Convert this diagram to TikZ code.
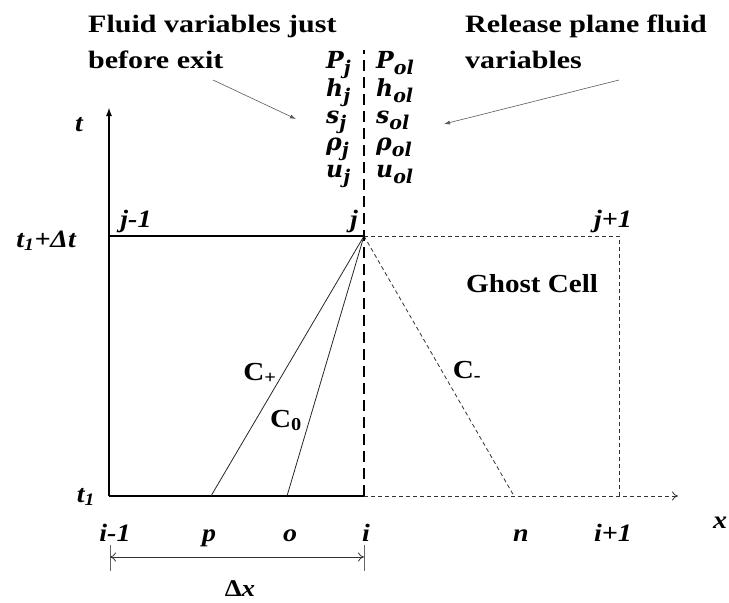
\documentclass[tikz,border=0pt]{standalone}
\usepackage{fontspec}
\setmainfont{Liberation Serif}
\newfontfamily\hdrfont{Liberation Serif}[FakeStretch=1.2]
\newfontfamily\lblfont{Liberation Serif}[FakeStretch=1.12]
\newfontfamily\varfont{DejaVu Serif}
\usetikzlibrary{arrows.meta}
\newcommand{\vsub}[1]{\raisebox{-0.28em}{\fontsize{19}{19}\selectfont #1}}
\tikzset{
  lbl/.style={font=\fontsize{25}{28}\selectfont\lblfont\bfseries\itshape, inner sep=0pt, anchor=base},
  hdr/.style={font=\fontsize{25}{36}\selectfont\hdrfont\bfseries, inner sep=0pt, align=left, anchor=base west},
  var/.style={font=\fontsize{23.5}{25}\selectfont\varfont\bfseries\itshape, inner sep=0pt, anchor=base west},
  cl/.style={font=\fontsize{26}{28}\selectfont\lblfont\bfseries, inner sep=0pt, anchor=base},
  thick edge/.style={line width=2.4pt, black},
  char/.style={line width=0.8pt, black!85},
  ghost/.style={line width=0.8pt, black!80, dash pattern=on 4pt off 3pt},
  note/.style={line width=0.6pt, black!65, -{Latex[length=6pt,width=4pt]}},
}
\begin{document}
\begin{tikzpicture}[x=1pt,y=-1pt]
\useasboundingbox (0,0) rectangle (729,603);
% key points
\coordinate (O) at (109,496);
\coordinate (I) at (364,496);
\coordinate (J) at (364,236);
\coordinate (TL) at (109,236);
\coordinate (TR) at (619,236);
\coordinate (BR) at (619,496);
\coordinate (P) at (211,496);
\coordinate (Oo) at (287,496);
\coordinate (N) at (514,496);
\coordinate (Ttop) at (109,107);
\coordinate (Xend) at (678,496);
\coordinate (Vtop) at (364,50);
% ghost cell
\draw[ghost] (J) -- (TR) -- (BR);
\draw[ghost, -{To[length=6pt,width=9pt]}] (I) -- (Xend);
\draw[ghost] (J) -- (N);
% main cell
\draw[line width=1.6pt] (TL) -- (J);
\draw[line width=2pt] (O) -- (I);
\draw[thick edge, -{Latex[length=9pt,width=6pt]}] (O) -- (Ttop);
% characteristics
\draw[char] (J) -- (P);
\draw[char] (J) -- (Oo);
% exit plane
\draw[line width=1.4pt, dash pattern=on 11pt off 6pt] (I) -- (Vtop);
% labels
\node[lbl] (tl) at (79,131) {t};
\node[lbl, anchor=base east] (tdt) at (76,247) {t\textsubscript{1}+Δt};
\node[lbl] (t1) at (86,502) {t\textsubscript{1}};
\node[lbl] (jm) at (136,227) {j-1};
\node[lbl] (jj) at (354,227) {j};
\node[lbl] (jp) at (613,227) {j+1};
\node[cl, anchor=base west] (gc) at (466,292) {Ghost Cell};
\node[cl] (cp) at (260,380) {C\textsubscript{+}};
\node[cl] (c0) at (286,427) {C\textsubscript{0}};
\node[cl] (cm) at (467,378) {C\textsubscript{-}};
\node[lbl] (bim) at (115,541) {i-1};
\node[lbl] (bp) at (209,541) {p};
\node[lbl] (bo) at (290,541) {o};
\node[lbl] (bi) at (366,541) {i};
\node[lbl] (bn) at (521,541) {n};
\node[lbl] (bip) at (613,541) {i+1};
\node[lbl] (xl) at (720,528) {x};
% delta x
\coordinate (dxa) at (110,557);
\coordinate (dxb) at (364,557);
\draw[line width=0.5pt, black!60] (110,545) -- (110,571);
\draw[line width=0.5pt, black!60] (364,545) -- (364,571);
\draw[line width=0.8pt, black!80, {To[length=6pt,width=9pt]}-{To[length=6pt,width=9pt]}] (dxa) -- (dxb);
\node[font=\fontsize{24}{26}\selectfont\lblfont\bfseries, inner sep=0pt, anchor=base] (dxl) at (240,596) {Δ\textit{x}};
% headers
\node[hdr] (h1) at (88,68) {Fluid variables just\\before exit};
\node[hdr] (h2) at (465,68) {Release plane fluid\\variables};
% variables
\foreach \y/\a/\b in {68/P/P, 96/h/h, 123/s/s, 150/ρ/ρ, 177/u/u}{
  \node[var] at (326,\y) {\a\vsub{j}};
  \node[var] at (376,\y) {\b\vsub{ol}};
}
% annotation arrows
\coordinate (a1s) at (213,80);
\coordinate (a1e) at (296,119);
\coordinate (a2s) at (619,80);
\coordinate (a2e) at (444,124);
\draw[note] (a1s) -- (a1e);
\draw[note] (a2s) -- (a2e);
\end{tikzpicture}
\end{document}
